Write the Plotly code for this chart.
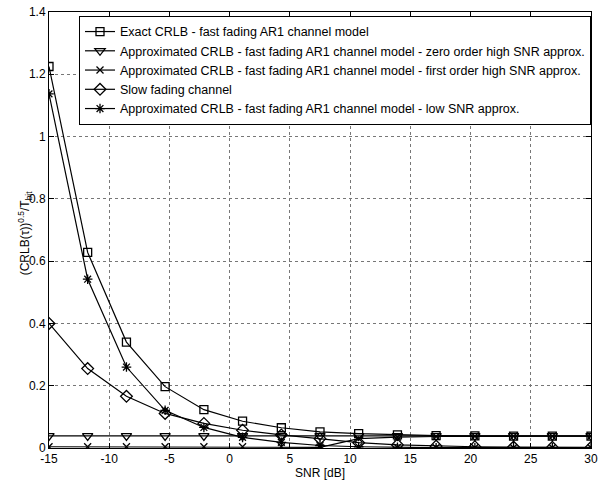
import plotly.graph_objects as go

snr_db = [-15, -11.79, -8.57, -5.36, -2.14, 1.07, 4.29, 7.5, 10.71, 13.93, 17.14, 20.36, 23.57, 26.79, 30]

exact_crlb = [1.225, 0.628, 0.340, 0.197, 0.123, 0.086, 0.065, 0.052, 0.046, 0.042, 0.040, 0.039, 0.038, 0.038, 0.038]
zero_order = [0.039, 0.039, 0.039, 0.039, 0.039, 0.039, 0.039, 0.039, 0.039, 0.039, 0.039, 0.039, 0.039, 0.039, 0.039]
first_order = [0.004, 0.004, 0.004, 0.004, 0.004, 0.004, 0.004, 0.002, 0.030, 0.035, 0.037, 0.038, 0.038, 0.038, 0.038]
slow_fading = [0.400, 0.255, 0.166, 0.111, 0.079, 0.057, 0.042, 0.030, 0.017, 0.010, 0.006, 0.004, 0.003, 0.002, 0.002]
low_snr = [1.137, 0.542, 0.260, 0.121, 0.066, 0.034, 0.018, 0.008, 0.004, 0.002, 0.001, 0.001, 0.001, 0.001, 0.001]

names = [
    "Exact CRLB - fast fading AR1 channel model",
    "Approximated CRLB - fast fading AR1 channel model - zero order high SNR approx.",
    "Approximated CRLB - fast fading AR1 channel model - first order high SNR approx.",
    "Slow fading channel",
    "Approximated CRLB - fast fading AR1 channel model - low SNR approx.",
]
series = [exact_crlb, zero_order, first_order, slow_fading, low_snr]
symbols = ["square-open", "triangle-down-open", "x-thin-open", "diamond-open", "asterisk-open"]
sizes = [8, 9, 7, 9, 8]

x_ticks = [-15, -10, -5, 0, 5, 10, 15, 20, 25, 30]
y_ticks = [0, 0.2, 0.4, 0.6, 0.8, 1.0, 1.2, 1.4]
y_tick_labels = ["0", "0.2", "0.4", "0.6", "0.8", "1", "1.2", "1.4"]

fig = go.Figure()
for name, vals, sym, sz in zip(names, series, symbols, sizes):
    fig.add_trace(go.Scatter(
        x=snr_db, y=vals, name=name, mode="lines+markers",
        line=dict(color="black", width=1.2),
        marker=dict(symbol=sym, size=sz, color="black", line=dict(color="black", width=1.3)),
    ))

font_family = "Liberation Sans, Arial, sans-serif"
fig.update_layout(
    width=603, height=485,
    margin=dict(l=49, r=5, t=10, b=37),
    paper_bgcolor="white", plot_bgcolor="white",
    font=dict(family=font_family, size=12, color="black"),
    showlegend=True,
    legend=dict(
        x=1, y=0.991, xanchor="right", yanchor="top",
        bgcolor="white", bordercolor="black", borderwidth=1,
        font=dict(family=font_family, size=12.5, color="black"),
        itemwidth=30,
    ),
    annotations=[dict(
        text="(CRLB(τ))<sup>0.5</sup>/T<sub>bit</sub>",
        xref="paper", yref="paper", x=-0.0437, y=0.493,
        xanchor="center", yanchor="middle", textangle=-90,
        showarrow=False, font=dict(family=font_family, size=12, color="black"),
    )],
)
fig.update_xaxes(
    range=[-15, 30], tickvals=x_ticks, ticktext=[str(v) for v in x_ticks],
    ticks="inside", ticklen=5, tickcolor="black", ticklabeloverflow="allow",
    showline=True, linecolor="black", linewidth=1, mirror="allticks",
    showgrid=True, gridcolor="#777777", griddash="dot", gridwidth=1,
    zeroline=False,
    title=dict(text="SNR [dB]", standoff=1, font=dict(size=12)),
)
fig.update_yaxes(
    range=[0, 1.4], tickvals=y_ticks, ticktext=y_tick_labels,
    ticks="inside", ticklen=5, tickcolor="black", ticklabeloverflow="allow",
    showline=True, linecolor="black", linewidth=1, mirror="allticks",
    showgrid=True, gridcolor="#777777", griddash="dot", gridwidth=1,
    zeroline=False,
)

fig.write_html("out.html", config={"displayModeBar": False},
               post_script="document.body.style.margin='0';")
